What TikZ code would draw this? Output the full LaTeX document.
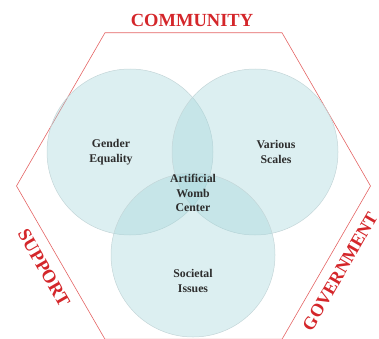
\documentclass[tikz,border=0pt]{standalone}
\usepackage{fontspec}
\setmainfont{Liberation Serif}
\usetikzlibrary{positioning}
\definecolor{labelred}{RGB}{212,38,42}
\definecolor{edgered}{RGB}{228,100,100}
\definecolor{vennfill}{RGB}{160,212,217}
\definecolor{vennline}{RGB}{196,214,216}
\definecolor{textgray}{RGB}{45,45,45}
\tikzstyle{venn}=[circle, draw=vennline, line width=0.5pt, fill=vennfill, fill opacity=0.37, inner sep=0pt]
\tikzstyle{topic}=[align=center, font=\fontsize{11.8}{14.5}\selectfont\bfseries, text=textgray]
\tikzstyle{side}=[font=\fontsize{18.5}{18.5}\selectfont\bfseries, text=labelred, inner sep=0pt]
\tikzstyle{hexline}=[draw=edgered, line width=0.6pt]

\begin{document}
\begin{tikzpicture}[x=1pt, y=1pt]
          \useasboundingbox (0,0) rectangle (379,338);
          \clip (0,0) rectangle (379,338);

          % hexagon frame
          \coordinate (hex) at (193.5,152);
          \draw[hexline] ([shift={(0:177)}]hex) -- ([shift={(60:177)}]hex)
            -- ([shift={(120:177)}]hex) -- ([shift={(180:177)}]hex)
            -- ([shift={(240:177)}]hex) -- ([shift={(300:177)}]hex) -- cycle;

          % circles
          \node[venn, minimum size=166pt] (gender)  at (130,186) {};
          \node[venn, minimum size=166pt] (scales)  at (255,186) {};
          \node[venn, minimum size=164pt] (society) at (193,83)  {};

          % labels
          \node[topic] (genderlbl)  at (111,186) {Gender\\Equality};
          \node[topic] (scaleslbl)  at (276,186) {Various\\Scales};
          \node[topic] (centerlbl)  at (193,145) {Artificial\\Womb\\Center};
          \node[topic] (societylbl) at (193,57)  {Societal\\Issues};

          \node[side]             (community)  at (192,318) {COMMUNITY};
          \node[side, rotate=-60] (support)    at (44,70)   {SUPPORT};
          \node[side, rotate=60, font=\fontsize{18}{18}\selectfont\bfseries]
                                  (government) at (340,66.5) {GOVERNMENT};
        \end{tikzpicture}
\end{document}
